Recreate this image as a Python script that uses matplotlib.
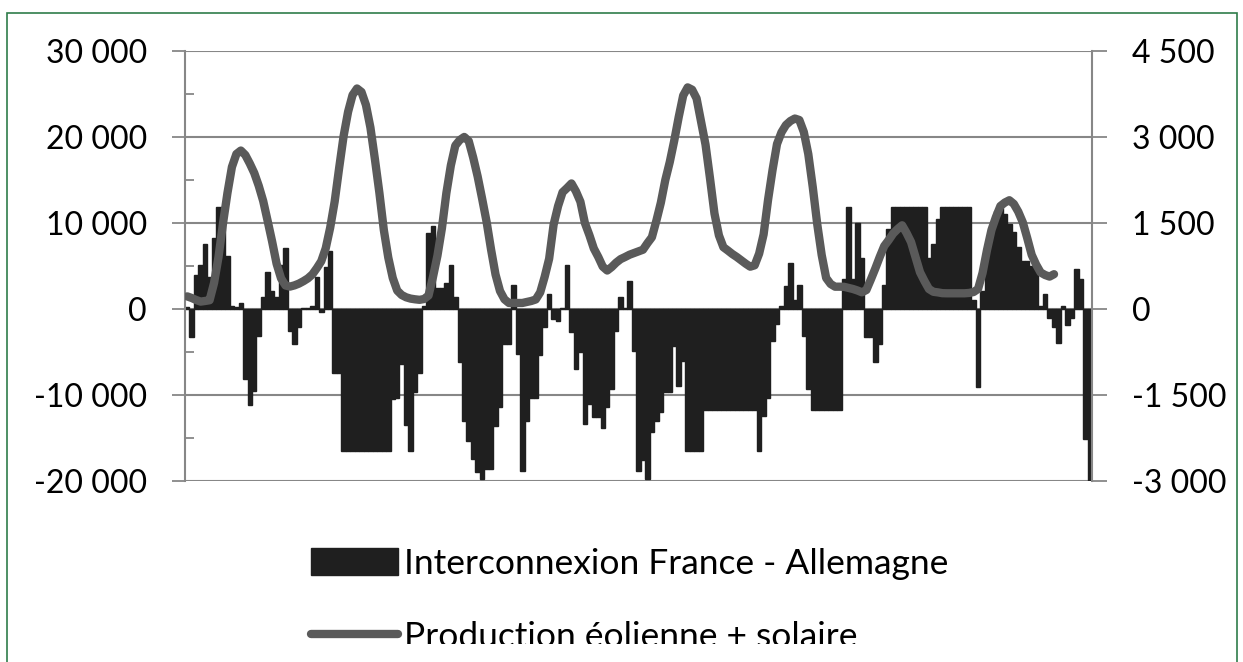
import matplotlib
matplotlib.use('Agg')
from matplotlib import pyplot as plt
from matplotlib.patches import Rectangle, Patch
from matplotlib.lines import Line2D
from matplotlib.ticker import FuncFormatter, MultipleLocator

plt.rcParams['font.family'] = ['Lato', 'DejaVu Sans']

# hourly exchange France - Germany (MW), left axis
interconnexion = [
    200, -3300, 3950, 5150, 7560, 3700, 8300, 11900, 11900, 6200,
    300, 250, 650, -8100, -11200, -9500, -3100, 1350, 4260, 2130,
    1350, 5150, 7100, -2600, -4070, -2130, 100, 100, 400, 3700,
    -400, 4850, 6800, -7400, -7400, -16500, -16500, -16500, -16500, -16500,
    -16500, -16500, -16500, -16500, -16500, -16500, -10500, -10300, -6400, -13500,
    -16500, -9700, -7400, 400, 8800, 9700, 2500, 2500, 3000, 5150,
    1350, -6200, -13000, -15300, -17400, -19000, -19800, -18600, -18600, -13600,
    -11400, -4070, -4070, 2830, -5200, -18800, -13000, -10300, -10300, -5400,
    -2130, 1800, -1160, -1350, 100, 5150, -2700, -7000, -5000, -13400,
    -11000, -12600, -12600, -13800, -11400, -9300, -2500, 1400, 100, 3300,
    -4850, -18800, -17600, -19800, -14300, -13000, -12000, -9700, -9700, -4260,
    -8900, -6000, -16500, -16500, -16500, -16500, -11800, -11800, -11800, -11800,
    -11800, -11800, -11800, -11800, -11800, -11800, -11800, -11800, -16500, -12400,
    -10300, -3700, -1750, 400, 2700, 5400, 1000, 2800, -3100, -9300,
    -11800, -11800, -11800, -11800, -11800, -11800, -11800, 3500, 11900, 3500,
    10000, 5900, -3300, -3300, -6200, -4070, 2800, 9300, 11900, 11900,
    11900, 11900, 11900, 11900, 11900, 11900, 5900, 7600, 10500, 11900,
    11900, 11900, 11900, 11900, 11900, 11900, 1000, -9100, 2100, 5600,
    8300, 11400, 11800, 11000, 9900, 8900, 7200, 5600, 5600, 5000,
    5400, 300, 1800, -1000, -2100, -3900, 400, -1900, -1000, 4650,
    3500, -15100, -20000,
]

# wind + solar production (MW), right axis
production = [
    220, 192, 157, 129, 140, 153, 453, 907, 1491, 2023,
    2477, 2703, 2764, 2686, 2538, 2372, 2149, 1884, 1535, 1177,
    790, 534, 410, 391, 412, 443, 485, 534, 603, 712,
    834, 1060, 1421, 1875, 2459, 3017, 3439, 3732, 3846, 3785,
    3558, 3165, 2616, 2030, 1378, 896, 541, 321, 244, 204,
    181, 169, 160, 174, 235, 558, 930, 1407, 2023, 2504,
    2851, 2947, 3001, 2930, 2642, 2311, 1925, 1522, 1038, 602,
    314, 169, 105, 105, 105, 105, 122, 140, 166, 290,
    562, 877, 1472, 1795, 2036, 2110, 2190, 2052, 1871, 1500,
    1290, 1055, 907, 739, 671, 732, 809, 870, 907, 947,
    977, 1005, 1034, 1148, 1252, 1540, 1854, 2250, 2564, 2937,
    3348, 3723, 3865, 3825, 3673, 3268, 2867, 2281, 1667, 1284,
    1078, 1020, 959, 907, 848, 790, 738, 762, 966, 1301,
    1906, 2424, 2878, 3082, 3209, 3279, 3322, 3296, 3087, 2703,
    2128, 1482, 942, 541, 436, 389, 389, 387, 368, 349,
    323, 291, 331, 514, 706, 910, 1099, 1203, 1317, 1395,
    1460, 1325, 1168, 907, 642, 488, 349, 300, 290, 276,
    274, 274, 274, 274, 274, 280, 296, 349, 628, 1029,
    1378, 1604, 1796, 1857, 1897, 1833, 1697, 1514, 1238, 945,
    774, 637, 593, 565, 607,
]

left_ticks = [-20000, -10000, 0, 10000, 20000, 30000]
right_ticks = [-3000, -1500, 0, 1500, 3000, 4500]
labels = ['Interconnexion France - Allemagne', 'Production éolienne + solaire']

bar_color = '#1f1f1f'
line_color = '#5a5a5a'
axis_color = '#878787'


def spaced(v, pos=None):
    return f'{v:,.0f}'.replace(',', ' ')


W, H = 1243, 662
fig = plt.figure(figsize=(W / 100, H / 100), dpi=100)
ax = fig.add_axes([185 / W, 1 - 481 / H, 907 / W, 430 / H])
ax2 = ax.twinx()

ax.bar(range(len(interconnexion)), interconnexion, width=1.0,
       color=bar_color, edgecolor=bar_color, linewidth=1.0, zorder=2)
ax.set_xlim(-0.5, len(interconnexion) - 0.5)
ax.set_ylim(-20000, 30000)
ax.set_yticks(left_ticks)
ax.yaxis.set_minor_locator(MultipleLocator(5000))
ax.yaxis.set_major_formatter(FuncFormatter(spaced))
ax.grid(axis='y', which='major', color=axis_color, linewidth=1.5)
ax.set_axisbelow(True)
ax.tick_params(axis='y', which='major', direction='out', length=9.5,
               width=1.3, color=axis_color, labelsize=23, pad=18)
ax.tick_params(axis='y', which='minor', direction='in', length=6.5,
               width=1.3, color=axis_color)
ax.tick_params(axis='x', bottom=False, labelbottom=False)
for s in ['top', 'bottom', 'right']:
    ax.spines[s].set_visible(False)
ax.spines['left'].set_color(axis_color)
ax.spines['left'].set_linewidth(1.5)

ax2.plot(range(len(production)), production, color=line_color, lw=6,
         solid_capstyle='round', solid_joinstyle='round')
ax2.set_ylim(-3000, 4500)
ax2.set_yticks(right_ticks)
ax2.yaxis.set_major_formatter(FuncFormatter(spaced))
ax2.tick_params(axis='y', which='major', direction='out', length=11,
                width=1.3, color=axis_color, labelsize=23, pad=18)
for s in ['top', 'bottom', 'left']:
    ax2.spines[s].set_visible(False)
ax2.spines['right'].set_color(axis_color)
ax2.spines['right'].set_linewidth(1.5)

handles = [Patch(facecolor=bar_color, edgecolor=bar_color),
           Line2D([0], [0], color=line_color, lw=6, solid_capstyle='round')]
fig.legend(handles=handles, labels=labels, loc='upper left',
           bbox_to_anchor=(311 / W, 1 - 548 / H), frameon=False, fontsize=25.5,
           handlelength=2.45, handleheight=0.8, handletextpad=0.18,
           labelspacing=1.15, borderpad=0, borderaxespad=0)

# bottom of the picture is cut off
fig.add_artist(Rectangle((8 / W, 0), (1236 - 8) / W, 18 / H,
                         transform=fig.transFigure, facecolor='white',
                         edgecolor='none', zorder=10))
fig.add_artist(Rectangle((7 / W, -0.05), (1237 - 7) / W, (H - 13) / H + 0.05,
                         transform=fig.transFigure, fill=False,
                         edgecolor='#2f7d4a', lw=1.2, zorder=11))

fig.savefig('out.png', dpi=100)
